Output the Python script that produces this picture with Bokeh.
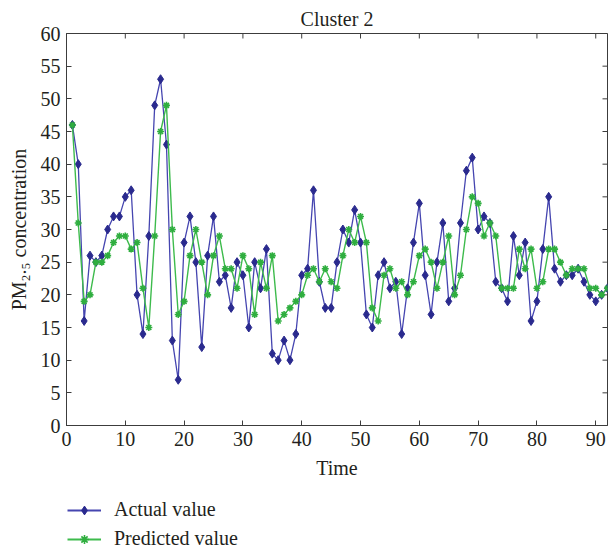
from math import pi
from bokeh.plotting import figure
from bokeh.layouts import column
from bokeh.models import Range1d, Legend, LegendItem, FixedTicker
from bokeh.embed import file_html
from bokeh.resources import INLINE

# ---- data ----
time = list(range(1, 93))
actual = [46, 40, 16, 26, 25, 26, 30, 32, 32, 35,
          36, 20, 14, 29, 49, 53, 43, 13, 7, 28,
          32, 25, 12, 26, 32, 22, 23, 18, 25, 23,
          15, 25, 21, 27, 11, 10, 13, 10, 14, 23,
          24, 36, 22, 18, 18, 25, 30, 28, 33, 28,
          17, 15, 23, 25, 21, 22, 14, 21, 28, 34,
          23, 17, 25, 31, 19, 21, 31, 39, 41, 30,
          32, 31, 22, 21, 19, 29, 23, 28, 16, 19,
          27, 35, 24, 22, 23, 23, 24, 22, 20, 19,
          20, 21]
predicted = [46, 31, 19, 20, 25, 25, 26, 28, 29, 29,
             27, 28, 21, 15, 29, 45, 49, 30, 17, 19,
             26, 30, 25, 20, 26, 29, 24, 24, 21, 26,
             24, 17, 25, 21, 26, 16, 17, 18, 19, 20,
             23, 24, 22, 24, 22, 21, 26, 30, 28, 32,
             28, 18, 16, 23, 24, 21, 22, 20, 22, 26,
             27, 25, 21, 25, 29, 20, 23, 30, 35, 34,
             29, 31, 29, 21, 21, 21, 27, 24, 27, 21,
             22, 27, 27, 25, 23, 24, 24, 24, 21, 21,
             20, 21]
x_min, x_max = 0, 92
y_min, y_max = 0, 60
x_ticks = list(range(0, 91, 10))
y_ticks = list(range(0, 61, 5))
title_text = "Cluster 2"
x_label = "Time"
y_label = "PM\u2082.\u2085 concentration"
series_names = ["Actual value", "Predicted value"]

FONT = "Liberation Serif"
FS = "20px"
AX = "#3c3c3c"
TXT = "#231f20"
BLUE_LINE, BLUE_MARK = "#4545b0", "#2a2a8e"
GREEN_LINE, GREEN_MARK = "#3dbb4c", "#2fae3f"
NAN = float("nan")

p = figure(frame_width=541, frame_height=392,
           x_range=Range1d(x_min, x_max), y_range=Range1d(y_min, y_max),
           output_backend="svg", toolbar_location=None,
           min_border_left=66, min_border_right=1, min_border_top=33, min_border_bottom=65)

p.title.text = title_text
p.title.align = "center"
p.title.text_font = FONT
p.title.text_font_size = FS
p.title.text_font_style = "normal"
p.title.text_color = TXT
p.title.standoff = 8

p.xgrid.visible = False
p.ygrid.visible = False
p.outline_line_color = AX
p.background_fill_color = "white"
p.border_fill_color = "white"

p.xaxis.ticker = FixedTicker(ticks=x_ticks)
p.yaxis.ticker = FixedTicker(ticks=y_ticks)
for ax in (p.xaxis[0], p.yaxis[0]):
    ax.axis_line_color = AX
    ax.major_tick_line_color = AX
    ax.major_tick_in = 5
    ax.major_tick_out = 0
    ax.minor_tick_line_color = None
    ax.major_label_text_font = FONT
    ax.major_label_text_font_size = FS
    ax.major_label_text_color = TXT
    ax.axis_label_text_font = FONT
    ax.axis_label_text_font_size = FS
    ax.axis_label_text_font_style = "normal"
    ax.axis_label_text_color = TXT
p.xaxis.axis_label = x_label
p.yaxis.axis_label = y_label
p.xaxis.major_label_standoff = 6
p.yaxis.major_label_standoff = 6
p.xaxis.axis_label_standoff = 8
p.yaxis.axis_label_standoff = 8

# mirrored inward ticks on top and right edges (clipped half-dashes)
p.scatter(x=x_ticks, y=[y_max] * len(x_ticks), marker="dash", size=10, angle=pi / 2,
          line_color=AX, line_width=1)
p.scatter(x=[x_max] * len(y_ticks), y=y_ticks, marker="dash", size=10,
          line_color=AX, line_width=1)

# series
p.line(time, actual, line_color=BLUE_LINE, line_width=1.3)
p.scatter(time, actual, marker="diamond", size=9, fill_color=BLUE_MARK, line_color=BLUE_MARK)
p.line(time, predicted, line_color=GREEN_LINE, line_width=1.4)
p.scatter(time, predicted, marker="asterisk", size=7, line_color=GREEN_MARK, line_width=1.6)

# legend strip below the axes (frame is aligned with the main plot's frame)
leg = figure(width=608, height=62, x_range=Range1d(0, 1), y_range=Range1d(0, 1),
             output_backend="svg", toolbar_location=None, min_border=0,
             x_axis_location=None, y_axis_location=None)
leg.outline_line_color = None
leg.xgrid.visible = False
leg.ygrid.visible = False
a_l = leg.line(x=[NAN], y=[NAN], line_color=BLUE_LINE, line_width=2)
a_m = leg.scatter(x=[NAN], y=[NAN], marker="diamond", size=9, fill_color=BLUE_MARK, line_color=BLUE_MARK)
p_l = leg.line(x=[NAN], y=[NAN], line_color=GREEN_LINE, line_width=2.2)
p_m = leg.scatter(x=[NAN], y=[NAN], marker="asterisk", size=7, line_color=GREEN_MARK, line_width=1.6)

legend = Legend(items=[LegendItem(label=series_names[0], renderers=[a_l, a_m]),
                       LegendItem(label=series_names[1], renderers=[p_l, p_m])],
                location=(1, 2), orientation="vertical",
                border_line_color=None, background_fill_alpha=0,
                label_text_font=FONT, label_text_font_size=FS, label_text_color=TXT,
                glyph_width=34, glyph_height=22, spacing=6, padding=0, margin=0,
                label_standoff=13)
leg.add_layout(legend)

layout = column(p, leg, spacing=0)
open("out.html", "w").write(file_html(layout, INLINE))
